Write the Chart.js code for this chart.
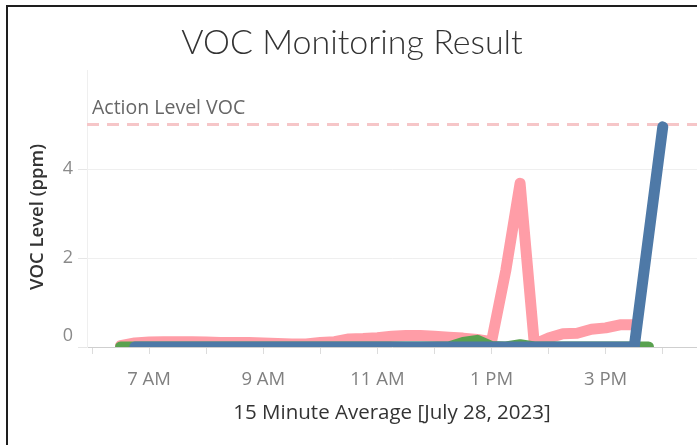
<!DOCTYPE html>
<html><head><meta charset="utf-8">
<script src="https://cdn.jsdelivr.net/npm/chart.js@4"></script>
<style>
html,body{margin:0;padding:0;background:#fff;overflow:hidden;}
#wrap{position:relative;width:697px;height:445px;}
#frame{position:absolute;left:6px;top:5px;width:700px;height:450px;border-top:2px solid #1e1e1e;border-left:2px solid #1e1e1e;pointer-events:none;}
canvas{display:block;}
</style></head><body>
<div id="wrap"><canvas id="c" width="697" height="445"></canvas><div id="frame"></div></div>
<script>
// 15-minute sample times (July 28, 2023)
const times = ["06:30","06:45","07:00","07:15","07:30","07:45","08:00","08:15","08:30","08:45",
  "09:00","09:15","09:30","09:45","10:00","10:15","10:30","10:45","11:00","11:15",
  "11:30","11:45","12:00","12:15","12:30","12:45","13:00","13:15","13:30","13:45",
  "14:00","14:15","14:30","14:45","15:00","15:15","15:30","15:45","16:00"];
const pinkValues = [0.03,0.09,0.11,0.12,0.12,0.12,0.11,0.10,0.10,0.10,
  0.09,0.08,0.07,0.07,0.10,0.12,0.18,0.19,0.21,0.24,
  0.26,0.26,0.24,0.22,0.20,0.17,0.12,1.72,3.68,0.06,
  0.20,0.30,0.31,0.40,0.43,0.50,0.50,null,null];
const greenValues = [0,0,0,0,0,0,0,0,0,0,
  0,0,0,0,0,0,0,0,0,0,
  0,0,0,0,0.10,0.15,0.01,0,0.05,0,
  0,0,0,0,0,0,0,0,null];
const blueValues = [null,0,0,0,0,0,0,0,0,0,
  0,0,0,0,0,0,0,0,0,0,
  0,0,0,0,0,0,0,0,0,0,
  0,0,0,0,0,0,0,null,4.95];
const hourTicks = [6,7,8,9,10,11,12,13,14,15,16];
const labeledHours = [7,9,11,13,15];
const hourLabels = ["7 AM","9 AM","11 AM","1 PM","3 PM"];
const yTickValues = [0,2,4];
const actionLevel = 5;
const actionLabel = "Action Level VOC";

const X_MIN = 5.912, X_MAX = 16.6, Y_MIN = 0, Y_MAX = 6.21;

function toHours(t){const [h,m]=t.split(":").map(Number);return h+m/60;}
function series(vals){
  const out=[];
  vals.forEach((v,i)=>{ if(v!==null) out.push({x:toHours(times[i]),y:v}); });
  return out;
}
const lineStyle = {borderWidth:11,pointRadius:0,tension:0,borderJoinStyle:'round',borderCapStyle:'round',clip:0,fill:false};

const extraText = {
  id:'extraText',
  afterDraw(chart){
    const {ctx, scales:{y}, chartArea} = chart;
    ctx.save();
    ctx.fillStyle='#666';
    ctx.font='19.5px "Open Sans"';
    ctx.textAlign='left';
    ctx.textBaseline='middle';
    ctx.fillText(actionLabel, chartArea.left+5, y.getPixelForValue(actionLevel)-16);
    ctx.translate(38, 217);
    ctx.rotate(-Math.PI/2);
    ctx.fillStyle='#333';
    ctx.font='600 18.5px "Open Sans"';
    ctx.textAlign='center';
    ctx.fillText('VOC Level (ppm)',0,0);
    ctx.restore();
  }
};

new Chart(document.getElementById('c'), {
  type:'line',
  data:{datasets:[
    Object.assign({label:'Blue',data:series(blueValues),borderColor:'#4E79A7'},lineStyle),
    Object.assign({label:'Green',data:series(greenValues),borderColor:'#59A14F'},lineStyle),
    Object.assign({label:'Pink',data:series(pinkValues),borderColor:'#FF9DA7'},lineStyle),
    {label:'Action Level',data:[{x:X_MIN,y:actionLevel},{x:X_MAX,y:actionLevel}],borderColor:'#F6C6C8',borderWidth:3,borderDash:[12,8],pointRadius:0,clip:0}
  ]},
  options:{
    responsive:false, animation:false, devicePixelRatio:1,
    layout:{padding:{left:7,top:0,right:0,bottom:0}},
    plugins:{
      legend:{display:false}, tooltip:{enabled:false},
      title:{display:true,text:'VOC Monitoring Result',color:'#333',font:{family:'Lato',size:34,weight:300,lineHeight:1.2},padding:{top:23,bottom:7}}
    },
    scales:{
      x:{type:'linear',min:X_MIN,max:X_MAX,
        afterBuildTicks(ax){ax.ticks=hourTicks.map(v=>({value:v}));},
        afterFit(ax){ax.height=98;},
        grid:{drawOnChartArea:false,drawTicks:true,tickLength:7,tickColor:'#dcdcdc',color:'#dcdcdc'},
        border:{display:true,color:'#cfcfcf',width:1,dash:[3,2]},
        ticks:{autoSkip:false,maxRotation:0,padding:15,color:'#808080',font:{family:'Open Sans',size:18.5},
          callback(v){const i=labeledHours.indexOf(v);return i>=0?hourLabels[i]:'';}},
        title:{display:true,text:'15 Minute Average [July 28, 2023]',color:'#333',font:{family:'Open Sans',size:20.5},padding:{bottom:19.5}}
      },
      y:{type:'linear',min:Y_MIN,max:Y_MAX,
        afterBuildTicks(ax){ax.ticks=yTickValues.map(v=>({value:v}));},
        afterFit(ax){ax.width=80;},
        grid:{color:(c)=>c.tick&&c.tick.value===0?'rgba(0,0,0,0)':'#efefef',tickColor:'#e6e6e6',tickLength:9,lineWidth:1},
        border:{display:true,color:'#efefef'},
        ticks:{padding:5,color:'#8a8a8a',font:{family:'Open Sans',size:18},
          callback(v){return v===0?['0','']:String(v);}},
        title:{display:false}
      }
    }
  },
  plugins:[extraText]
});
</script>
</body></html>
